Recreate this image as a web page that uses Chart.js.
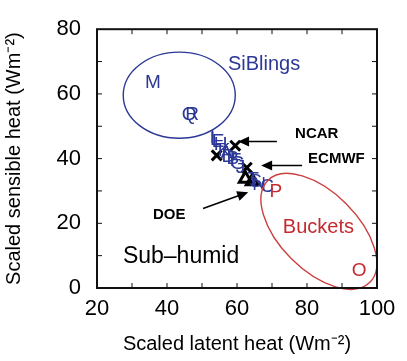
<!DOCTYPE html>
<html>
<head>
<meta charset="utf-8">
<script src="https://cdn.jsdelivr.net/npm/chart.js@4/dist/chart.umd.min.js"></script>
<style>
  html, body { margin: 0; padding: 0; background: #fff; }
  #wrap { width: 407px; height: 361px; }
</style>
</head>
<body>
<div id="wrap"><canvas id="myChart" width="407" height="361"></canvas></div>
<script>
// letras de los modelos SiB (azul)
var sibLetras = ['M', 'Q', 'R', 'I', 'L', 'E', 'H', 'K', 'A', 'D', 'B', 'F', 'G', 'J', 'T', 'S', 'N', 'C'];
var sibX = [36.0, 46.3, 47.2, 53.0, 53.8, 54.6, 55.3, 56.3, 57.0, 57.5, 58.8, 59.6, 60.2, 61.0, 64.6, 65.3, 66.3, 68.6];
var sibY = [63.4, 53.6, 53.4, 46.5, 45.8, 45.3, 44.2, 42.5, 41.6, 40.6, 40.0, 39.4, 38.5, 37.2, 33.4, 32.8, 32.0, 31.4];

// letras de los modelos bucket (rojo)
var bucketLetras = ['P', 'O'];
var bucketX = [71.1, 94.9];
var bucketY = [29.9, 5.3];

// modelos negros (NCAR, ECMWF, DOE)
var modeloX = [54.2, 59.5, 62.8, 62.4, 64.4];
var modeloY = [41.0, 44.0, 37.2, 33.8, 33.0];
var modeloEstilo = ['crossRot', 'crossRot', 'crossRot', 'triangle', 'triangle'];

var xTicks = [20, 40, 60, 80, 100];
var yTicks = [0, 20, 40, 60, 80];

var fuente = '"Liberation Sans", Arial, sans-serif';
var azul = '#2b3896';
var rojo = '#c62a30';

function puntos(xs, ys) {
    var r = [];
    for (var i = 0; i < xs.length; i++) r.push({ x: xs[i], y: ys[i] });
    return r;
}

// dibuja las letras encima de cada punto
var letrasPlugin = {
    id: 'letras',
    afterDatasetsDraw: function(chart) {
        var ctx = chart.ctx;
        chart.data.datasets.forEach(function(ds, i) {
            if (!ds.letras) return;
            var meta = chart.getDatasetMeta(i);
            ctx.save();
            ctx.font = '19px ' + fuente;
            ctx.fillStyle = ds.colorLetra;
            ctx.textAlign = 'center';
            ctx.textBaseline = 'middle';
            meta.data.forEach(function(p, j) {
                ctx.fillText(ds.letras[j], p.x, p.y);
            });
            ctx.restore();
        });
    }
};

// elipses, flechas, textos, marco y ticks internos
var anotaciones = {
    id: 'anotaciones',
    afterDatasetsDraw: function(chart) {
        var ctx = chart.ctx;
        var xs = chart.scales.x, ys = chart.scales.y;
        var a = chart.chartArea;
        var px = function(v) { return xs.getPixelForValue(v); };
        var py = function(v) { return ys.getPixelForValue(v); };
        var ux = px(30) - px(20); // pixeles por 10 unidades x
        var uy = py(0) - py(10);

        ctx.save();
        // elipse SiBlings
        ctx.strokeStyle = azul;
        ctx.lineWidth = 1.4;
        ctx.beginPath();
        ctx.ellipse(px(43.5), py(59.6), 1.6 * ux, 1.33 * uy, 0, 0, Math.PI * 2);
        ctx.stroke();
        // elipse Buckets
        ctx.strokeStyle = '#cc4040';
        ctx.beginPath();
        ctx.ellipse(px(83.4), py(17.5), 2.06 * ux, 1.11 * ux, Math.PI / 4, 0, Math.PI * 2);
        ctx.stroke();

        // textos
        ctx.textBaseline = 'middle';
        ctx.textAlign = 'left';
        ctx.font = '20px ' + fuente;
        ctx.fillStyle = azul;
        ctx.fillText('SiBlings', px(57.4), py(69));
        ctx.fillStyle = rojo;
        ctx.fillText('Buckets', px(73.1), py(18.7));
        ctx.fillStyle = '#000';
        ctx.font = '23px ' + fuente;
        ctx.fillText('Sub\u2013humid', px(27.4), py(9.8));
        ctx.font = 'bold 15px ' + fuente;
        ctx.fillText('NCAR', px(76.6), py(47.7));
        ctx.fillText('ECMWF', px(80.3), py(40));
        ctx.fillText('DOE', px(36), py(22.5));

        // flechas
        function flecha(x1, y1, x2, y2) {
            var X1 = px(x1), Y1 = py(y1), X2 = px(x2), Y2 = py(y2);
            var ang = Math.atan2(Y2 - Y1, X2 - X1);
            ctx.strokeStyle = '#000';
            ctx.lineWidth = 1.5;
            ctx.beginPath();
            ctx.moveTo(X1, Y1);
            ctx.lineTo(X2 - 6 * Math.cos(ang), Y2 - 6 * Math.sin(ang));
            ctx.stroke();
            ctx.beginPath();
            ctx.moveTo(X2, Y2);
            ctx.lineTo(X2 - 11 * Math.cos(ang) + 5 * Math.sin(ang), Y2 - 11 * Math.sin(ang) - 5 * Math.cos(ang));
            ctx.lineTo(X2 - 11 * Math.cos(ang) - 5 * Math.sin(ang), Y2 - 11 * Math.sin(ang) + 5 * Math.cos(ang));
            ctx.closePath();
            ctx.fillStyle = '#000';
            ctx.fill();
        }
        flecha(71.4, 45.3, 60.3, 45.3);
        flecha(78.6, 37.9, 66.9, 37.9);
        flecha(50.3, 24.6, 63.2, 29.6);

        // marco
        ctx.strokeStyle = '#111';
        ctx.lineWidth = 2;
        ctx.strokeRect(a.left, a.top, a.right - a.left, a.bottom - a.top);

        // ticks internos
        ctx.lineWidth = 1;
        ctx.beginPath();
        for (var v = 30; v < 100; v += 10) {
            ctx.moveTo(px(v), a.bottom); ctx.lineTo(px(v), a.bottom - 5);
            ctx.moveTo(px(v), a.top); ctx.lineTo(px(v), a.top + 5);
        }
        for (var w = 10; w < 80; w += 10) {
            ctx.moveTo(a.left, py(w)); ctx.lineTo(a.left + 5, py(w));
            ctx.moveTo(a.right, py(w)); ctx.lineTo(a.right - 5, py(w));
        }
        ctx.stroke();
        ctx.restore();
    }
};

var ctx = document.getElementById('myChart').getContext('2d');
var myChart = new Chart(ctx, {
    type: 'scatter',
    data: {
        datasets: [
            {
                label: 'SiB',
                data: puntos(sibX, sibY),
                letras: sibLetras,
                colorLetra: azul,
                pointRadius: 0
            },
            {
                label: 'Buckets',
                data: puntos(bucketX, bucketY),
                letras: bucketLetras,
                colorLetra: rojo,
                pointRadius: 0
            },
            {
                label: 'Modelos',
                data: puntos(modeloX, modeloY),
                pointStyle: modeloEstilo,
                pointRadius: 7,
                borderColor: '#000',
                backgroundColor: 'rgba(0,0,0,0)',
                borderWidth: 3
            }
        ]
    },
    plugins: [letrasPlugin, anotaciones],
    options: {
        responsive: false,
        animation: false,
        layout: { padding: { top: 18, right: 30, left: 0, bottom: 0 } },
        plugins: {
            legend: { display: false },
            tooltip: { enabled: false }
        },
        scales: {
            x: {
                type: 'linear',
                min: 20,
                max: 100,
                afterBuildTicks: function(s) { s.ticks = xTicks.map(function(v) { return { value: v }; }); },
                afterFit: function(s) { s.height = 73; },
                ticks: { color: '#000', font: { size: 22, family: fuente }, padding: 8, maxRotation: 0 },
                grid: { display: false, drawTicks: false },
                border: { display: false },
                title: {
                    display: true,
                    text: 'Scaled latent heat (Wm\u207B\u00B2)',
                    color: '#000',
                    font: { size: 20, family: fuente },
                    padding: { top: 4, bottom: 5 }
                }
            },
            y: {
                type: 'linear',
                min: 0,
                max: 80,
                afterBuildTicks: function(s) { s.ticks = yTicks.map(function(v) { return { value: v }; }); },
                afterFit: function(s) { s.width = 97; },
                ticks: { color: '#000', font: { size: 22, family: fuente }, padding: 16 },
                grid: { display: false, drawTicks: false },
                border: { display: false },
                title: {
                    display: true,
                    text: 'Scaled sensible heat (Wm\u207B\u00B2)',
                    color: '#000',
                    font: { size: 20, family: fuente },
                    padding: { top: 2, bottom: 2 }
                }
            }
        }
    }
});
</script>
</body>
</html>
